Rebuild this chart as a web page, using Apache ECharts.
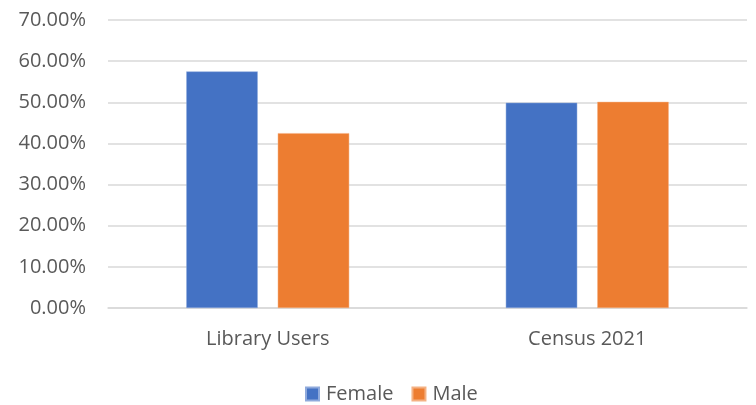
<!DOCTYPE html>
<html>
<head>
<meta charset="utf-8">
<script src="https://cdn.jsdelivr.net/npm/echarts@6/dist/echarts.min.js"></script>
<style>
  html, body { margin: 0; padding: 0; background: #fff; }
  #chart { width: 756px; height: 405px; }
</style>
</head>
<body>
<div id="chart"></div>
<script>
// data
const categories = ['Library Users', 'Census 2021'];
const femaleValues = [0.575, 0.499];
const maleValues = [0.425, 0.501];

const FONT = '"Open Sans", "Noto Sans", sans-serif';
const TEXT_COLOR = '#595959';

const chart = echarts.init(document.getElementById('chart'));

const option = {
  animation: false,
  textStyle: { fontFamily: FONT },
  grid: { left: 108, right: 9, top: 20, bottom: 97, containLabel: false },
  legend: {
    top: 379,
    left: 300,
    itemWidth: 13,
    itemHeight: 13,
    itemGap: 18,
    icon: 'rect',
    textStyle: { color: TEXT_COLOR, fontSize: 20, fontFamily: FONT, padding: [0, 0, 0, 2] },
    data: ['Female', 'Male']
  },
  xAxis: {
    type: 'category',
    data: categories,
    axisLine: { show: true, lineStyle: { color: '#d9d9d9', width: 1.5 } },
    axisTick: { show: false },
    axisLabel: { color: TEXT_COLOR, fontSize: 20, margin: 21, fontFamily: FONT }
  },
  yAxis: {
    type: 'value',
    min: 0,
    max: 0.7,
    interval: 0.1,
    axisLine: { show: false },
    axisTick: { show: false },
    splitLine: { lineStyle: { color: '#d9d9d9', width: 1.5 } },
    axisLabel: {
      color: TEXT_COLOR,
      fontSize: 20,
      margin: 22,
      fontFamily: FONT,
      formatter: (v) => (v * 100).toFixed(2) + '%'
    }
  },
  series: [
    {
      name: 'Female',
      type: 'bar',
      data: femaleValues,
      barGap: '28%',
      barCategoryGap: '49%',
      itemStyle: { color: '#4472c4', borderColor: '#8faadc', borderWidth: 0.5 }
    },
    {
      name: 'Male',
      type: 'bar',
      data: maleValues,
      itemStyle: { color: '#ed7d31', borderColor: '#f4b183', borderWidth: 0.5 }
    }
  ]
};

chart.setOption(option);
</script>
</body>
</html>
